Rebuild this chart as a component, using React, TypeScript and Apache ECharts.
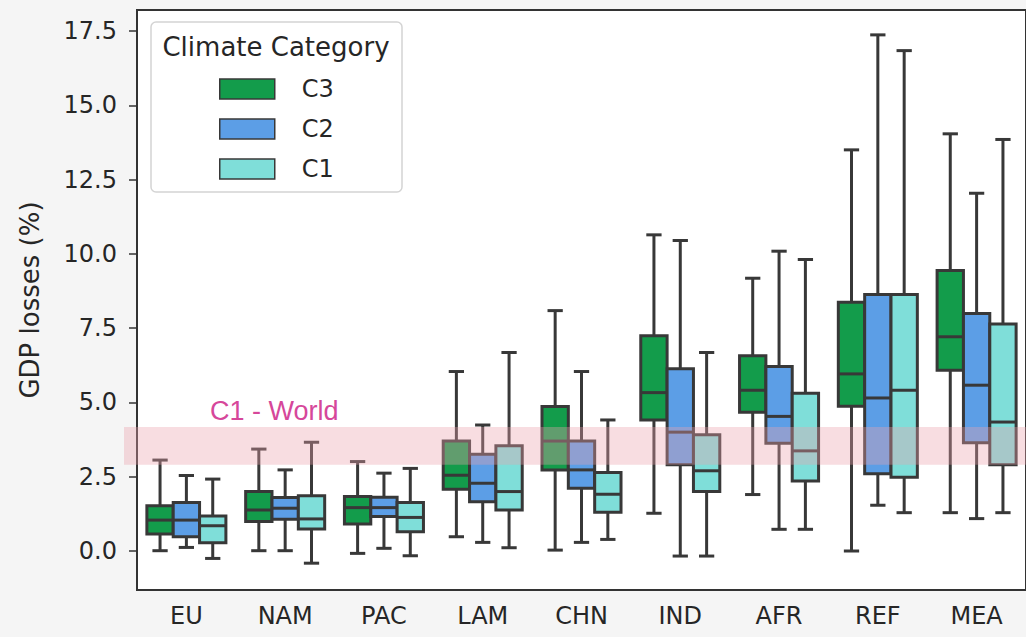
import React, { useEffect, useRef } from "react";
import * as echarts from "echarts";

const categories = ["EU", "NAM", "PAC", "LAM", "CHN", "IND", "AFR", "REF", "MEA"];
const seriesNames = ["C3", "C2", "C1"];
const seriesColors = ["#139c4b", "#5c9ee6", "#7fded9"];
// [lower whisker, q1, median, q3, upper whisker]
const c3Values = [
  [0.01, 0.57, 1.04, 1.52, 3.06],
  [0.01, 0.99, 1.38, 2.0, 3.43],
  [-0.08, 0.91, 1.46, 1.83, 3.01],
  [0.48, 2.08, 2.55, 3.7, 6.04],
  [0.03, 2.73, 3.7, 4.86, 8.09],
  [1.27, 4.41, 5.33, 7.24, 10.64],
  [1.9, 4.67, 5.41, 6.57, 9.18],
  [0.0, 4.87, 5.96, 8.37, 13.5],
  [1.29, 6.08, 7.21, 9.44, 14.04],
];
const c2Values = [
  [0.12, 0.48, 1.04, 1.63, 2.54],
  [0.01, 1.07, 1.44, 1.8, 2.73],
  [0.09, 1.16, 1.46, 1.81, 2.62],
  [0.29, 1.66, 2.28, 3.26, 4.24],
  [0.29, 2.11, 2.73, 3.7, 6.04],
  [-0.17, 2.9, 4.0, 6.13, 10.45],
  [0.73, 3.63, 4.53, 6.21, 10.09],
  [1.54, 2.6, 5.15, 8.63, 17.37],
  [1.09, 3.64, 5.58, 7.99, 12.04],
];
const c1Values = [
  [-0.25, 0.28, 0.85, 1.18, 2.42],
  [-0.41, 0.74, 1.08, 1.86, 3.66],
  [-0.16, 0.65, 1.13, 1.63, 2.78],
  [0.11, 1.38, 2.0, 3.54, 6.68],
  [0.39, 1.3, 1.91, 2.64, 4.41],
  [-0.17, 2.0, 2.7, 3.91, 6.68],
  [0.73, 2.36, 3.37, 5.31, 9.81],
  [1.29, 2.48, 5.41, 8.63, 16.84],
  [1.29, 2.9, 4.34, 7.64, 13.85],
];
const yTicks = [0, 2.5, 5, 7.5, 10, 12.5, 15, 17.5];
const worldBand = [2.9, 4.17];
const worldLabel = "C1 - World";
const legendTitle = "Climate Category";
const yAxisTitle = "GDP losses (%)";

const FONT = "DejaVu Sans";
const TEXT = "#262626";
const EDGE = "#383838";

export default function App() {
  const ref = useRef<HTMLDivElement>(null);
  useEffect(() => {
    if (!ref.current) return;
    const chart = echarts.init(ref.current, null, { renderer: "svg" });
    const allValues = [c3Values, c2Values, c1Values];

    const makeSeries = (idx: number) => ({
      type: "custom",
      name: seriesNames[idx],
      itemStyle: { color: seriesColors[idx], borderColor: EDGE, borderWidth: 1.5 },
      encode: { x: 0, y: [1, 2, 3, 4, 5] },
      data: allValues[idx].map((v, i) => [i, ...v]),
      z: 2,
      renderItem: (params: any, api: any) => {
        const cat = api.value(0);
        const pLo = api.coord([cat, api.value(1)]);
        const pQ1 = api.coord([cat, api.value(2)]);
        const pMed = api.coord([cat, api.value(3)]);
        const pQ3 = api.coord([cat, api.value(4)]);
        const pHi = api.coord([cat, api.value(5)]);
        const band = api.size([1, 0])[0];
        const bw = (band * 0.8) / 3;
        const cx = pLo[0] + (idx - 1) * bw;
        const half = bw / 2;
        const cap = bw * 0.29;
        const lw = 3;
        const lineStyle = { stroke: EDGE, lineWidth: lw, fill: null };
        return {
          type: "group",
          children: [
            { type: "line", shape: { x1: cx, y1: pQ3[1], x2: cx, y2: pHi[1] }, style: lineStyle },
            { type: "line", shape: { x1: cx, y1: pQ1[1], x2: cx, y2: pLo[1] }, style: lineStyle },
            { type: "line", shape: { x1: cx - cap, y1: pHi[1], x2: cx + cap, y2: pHi[1] }, style: lineStyle },
            { type: "line", shape: { x1: cx - cap, y1: pLo[1], x2: cx + cap, y2: pLo[1] }, style: lineStyle },
            {
              type: "rect",
              shape: { x: cx - half, y: pQ3[1], width: bw, height: pQ1[1] - pQ3[1] },
              style: { fill: seriesColors[idx], stroke: EDGE, lineWidth: lw },
            },
            { type: "line", shape: { x1: cx - half, y1: pMed[1], x2: cx + half, y2: pMed[1] }, style: lineStyle },
          ],
        };
      },
    });

    chart.setOption({
      animation: false,
      backgroundColor: "#f5f5f5",
      grid: {
        left: 137,
        top: 10,
        width: 902,
        height: 580,
        show: true,
        backgroundColor: "#ffffff",
        borderColor: "#333333",
        borderWidth: 2,
      },
      xAxis: {
        type: "category",
        data: categories,
        axisLine: { onZero: false, lineStyle: { color: "#333333", width: 2 } },
        axisTick: { alignWithLabel: true, length: 8, lineStyle: { color: "#333333", width: 1.5 } },
        axisLabel: { fontFamily: FONT, fontSize: 24, color: TEXT, margin: 14 },
        splitLine: { show: false },
      },
      yAxis: {
        type: "value",
        min: -1.3125,
        max: 18.207,
        name: yAxisTitle,
        nameLocation: "middle",
        nameGap: 94,
        nameTextStyle: { fontFamily: FONT, fontSize: 26, color: TEXT },
        axisLine: { show: true, lineStyle: { color: "#333333", width: 2 } },
        axisTick: { show: true, length: 8, customValues: yTicks, lineStyle: { color: "#333333", width: 1.5 } },
        axisLabel: {
          fontFamily: FONT,
          fontSize: 24,
          color: TEXT,
          margin: 20,
          customValues: yTicks,
          formatter: (v: number) => v.toFixed(1),
        },
        splitLine: { show: false },
      },
      legend: {
        orient: "vertical",
        left: 219,
        top: 77,
        itemWidth: 55,
        itemHeight: 20,
        itemGap: 16,
        padding: 0,
        selectedMode: false,
        icon: "rect",
        textStyle: { fontFamily: FONT, fontSize: 24, color: TEXT, lineHeight: 20, padding: [0, 0, 0, 22] },
        data: seriesNames.map((n, i) => ({
          name: n,
          itemStyle: { color: seriesColors[i], borderColor: EDGE, borderWidth: 1.5 },
        })),
        z: 20,
      },
      series: [makeSeries(0), makeSeries(1), makeSeries(2)],
    });

    const yTop = chart.convertToPixel({ yAxisIndex: 0 }, worldBand[1]) as number;
    const yBot = chart.convertToPixel({ yAxisIndex: 0 }, worldBand[0]) as number;
    chart.setOption({
      graphic: [
        {
          type: "rect",
          z: 50,
          shape: { x: 124, y: yTop, width: 1026 - 124, height: yBot - yTop },
          style: { fill: "rgba(236,160,172,0.36)" },
        },
        {
          type: "text",
          z: 50,
          left: 210,
          top: yTop - 30,
          style: {
            text: worldLabel,
            font: "27px 'Liberation Sans'",
            fill: "#d6479a",
          },
        },
        {
          type: "rect",
          z: 10,
          shape: { x: 151, y: 22, width: 251, height: 170, r: 5 },
          style: { fill: "rgba(255,255,255,0.85)", stroke: "#d4d4d4", lineWidth: 1.5 },
        },
        {
          type: "text",
          z: 11,
          x: 276,
          y: 47,
          style: {
            text: legendTitle,
            font: `26px '${FONT}'`,
            fill: TEXT,
            align: "center",
            verticalAlign: "middle",
          },
        },
      ],
    });

    return () => chart.dispose();
  }, []);

  return (
    <div
      ref={ref}
      style={{ position: "fixed", left: 0, top: 0, width: 1026, height: 637, background: "#f5f5f5" }}
    />
  );
}
